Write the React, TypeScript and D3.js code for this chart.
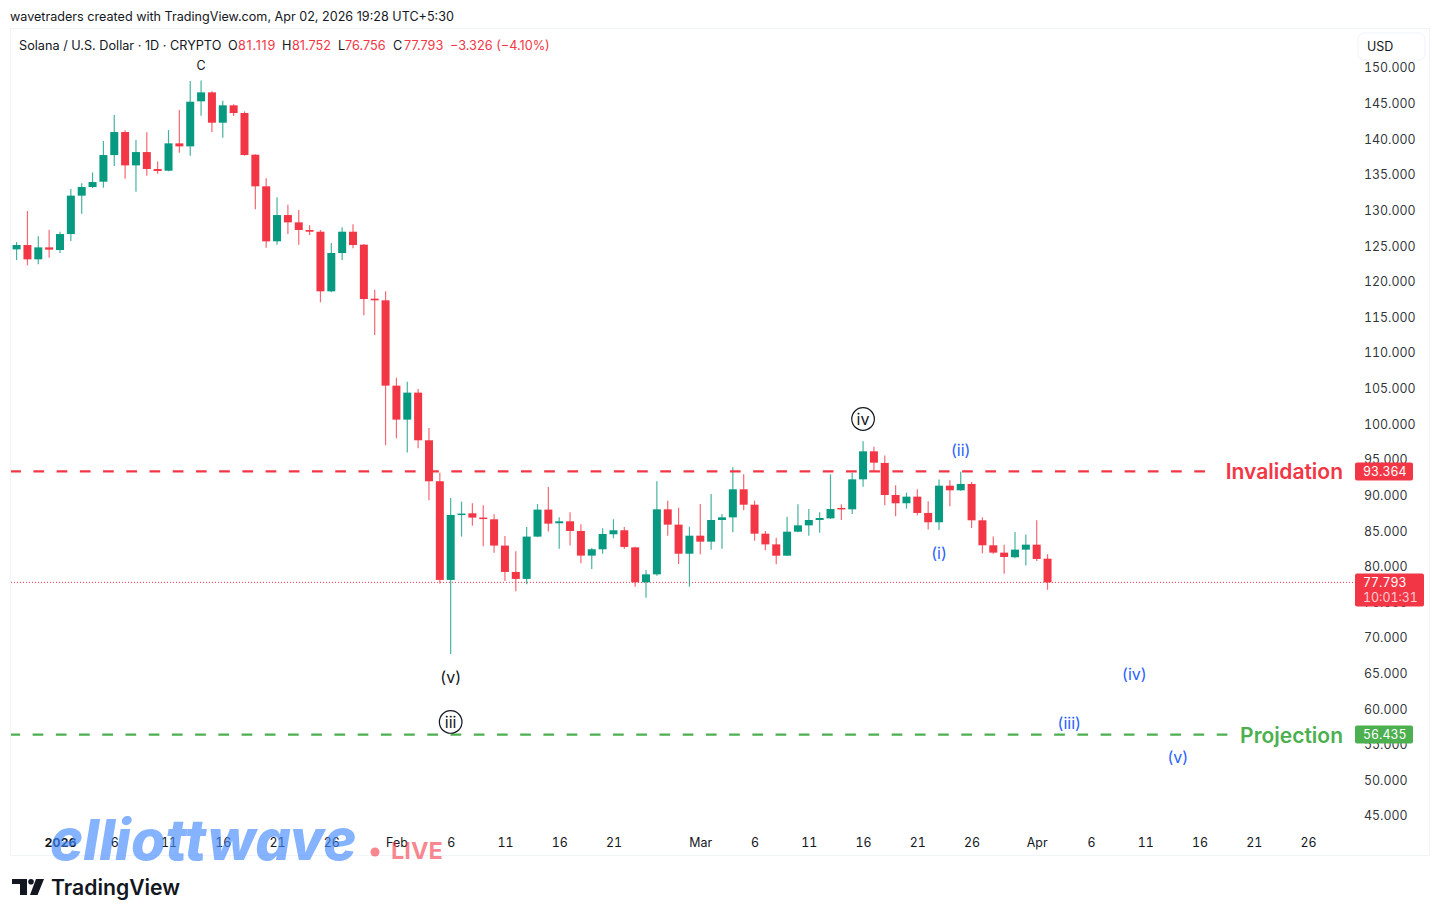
import * as React from 'react';
import * as d3 from 'd3';

// daily candles, first one is Dec 28 2025
const firstDay = new Date(Date.UTC(2025, 11, 28));

const opens = [
  124.54, 125.15, 123.14, 124.82, 124.45, 126.69, 132.08, 133.29, 134.04, 137.78, 141.01, 136.33,
  138.2, 135.82, 135.58, 139.42, 139.0, 145.32, 146.58, 142.32, 144.76, 143.68, 137.83, 133.39,
  125.67, 129.36, 128.33, 127.26, 127.02, 118.65, 124.03, 127.02, 125.2, 117.62, 117.39, 105.41,
  100.64, 104.43, 97.74, 91.99, 78.14, 87.26, 87.49, 86.89, 86.65, 82.96, 79.26, 78.28,
  84.22, 88.01, 86.09, 86.37, 85.01, 81.55, 82.44, 84.55, 85.11, 82.71, 77.8, 78.92,
  88.05, 85.9, 81.82, 84.35, 83.51, 86.55, 86.92, 90.86, 88.7, 84.63, 83.13, 81.54,
  84.91, 85.8, 86.55, 86.78, 88.24, 88.05, 92.26, 96.19, 94.56, 90.06, 88.9, 89.83,
  87.54, 86.23, 91.37, 90.72, 91.61, 86.51, 83.0, 81.97, 81.32, 82.39, 83.09, 81.119,
];
const highs = [
  125.57, 129.92, 126.37, 127.26, 127.02, 133.01, 133.81, 135.35, 139.75, 143.4, 141.25, 139.89,
  140.97, 136.89, 141.29, 144.1, 148.17, 148.26, 146.72, 145.41, 144.9, 143.91, 137.88, 134.51,
  131.84, 130.81, 130.06, 127.91, 127.26, 125.43, 127.63, 128.05, 125.29, 118.88, 118.65, 106.53,
  105.97, 104.95, 99.47, 93.2, 89.65, 89.13, 88.9, 88.62, 87.35, 84.31, 82.16, 85.58,
  88.8, 91.19, 86.93, 87.63, 85.95, 82.63, 85.39, 86.65, 85.58, 82.81, 79.53, 91.98,
  89.26, 88.28, 85.61, 88.8, 90.2, 87.39, 93.94, 92.96, 89.26, 85.01, 84.07, 87.02,
  88.75, 88.09, 87.63, 92.96, 88.75, 93.2, 97.6, 96.85, 95.59, 91.42, 90.39, 90.86,
  89.18, 92.22, 92.12, 93.34, 91.89, 86.93, 84.22, 83.09, 84.87, 84.5, 86.51, 81.752,
];
const lows = [
  123.04, 122.3, 122.44, 123.37, 124.03, 125.71, 129.55, 133.15, 133.2, 136.24, 134.46, 132.64,
  134.88, 135.16, 135.5, 138.11, 137.69, 143.3, 141.01, 140.22, 143.26, 137.7, 130.16, 124.78,
  125.2, 126.69, 125.2, 126.56, 117.11, 118.51, 123.05, 124.69, 115.28, 112.52, 97.04, 98.02,
  96.01, 96.62, 89.32, 77.62, 67.75, 84.22, 85.76, 82.86, 81.97, 78.0, 76.55, 77.53,
  84.15, 84.92, 82.53, 82.96, 80.48, 79.68, 81.83, 83.98, 82.49, 77.19, 75.65, 78.74,
  84.35, 80.37, 77.19, 81.73, 82.39, 82.53, 84.82, 87.91, 83.65, 82.29, 80.33, 81.5,
  84.82, 84.35, 84.77, 86.7, 86.56, 87.4, 91.23, 93.39, 88.61, 87.07, 88.15, 87.21,
  85.2, 85.15, 88.47, 90.65, 85.43, 81.88, 81.83, 79.02, 81.17, 80.15, 80.8, 76.756,
];
const closes = [
  125.15, 123.14, 124.82, 124.5, 126.69, 132.08, 133.29, 133.99, 137.78, 141.01, 136.33, 138.2,
  135.82, 135.54, 139.42, 139.0, 145.27, 146.58, 142.32, 144.76, 143.68, 137.78, 133.39, 125.67,
  129.36, 128.33, 127.26, 127.02, 118.65, 124.03, 127.02, 125.15, 117.57, 117.39, 105.41, 100.64,
  104.43, 97.74, 91.99, 78.14, 87.26, 87.45, 86.89, 86.7, 82.96, 79.26, 78.28, 84.22,
  88.01, 86.04, 86.37, 85.01, 81.55, 82.44, 84.59, 85.11, 82.77, 77.8, 78.92, 88.05,
  85.9, 81.82, 84.35, 83.51, 86.55, 86.92, 90.86, 88.7, 84.63, 83.13, 81.54, 84.91,
  85.8, 86.55, 86.83, 88.09, 88.1, 92.26, 96.19, 94.6, 90.06, 88.9, 89.83, 87.54,
  86.23, 91.37, 90.72, 91.61, 86.51, 83.0, 81.97, 81.36, 82.39, 83.09, 81.08, 77.793,
];

const priceTicks = d3.range(45, 151, 5);

const timeLabels = ['2026', '6', '11', '16', '21', '26', 'Feb', '6', '11', '16', '21', 'Mar', '6', '11', '16', '21', '26', 'Apr', '6', '11', '16', '21', '26'];
const timeTicks = [
  [0, 1], [0, 6], [0, 11], [0, 16], [0, 21], [0, 26],
  [1, 1], [1, 6], [1, 11], [1, 16], [1, 21],
  [2, 1], [2, 6], [2, 11], [2, 16], [2, 21], [2, 26],
  [3, 1], [3, 6], [3, 11], [3, 16], [3, 21], [3, 26],
].map(([m, d]) => new Date(Date.UTC(2026, m, d)));

const invalidation = 93.364;
const projection = 56.435;
const lastPrice = 77.793;

const black = '#131722';
const blue = '#2962ff';
const up = '#089981';
const down = '#f23645';
const greenLine = '#4caf50';
const font = 'Inter, "Noto Sans", sans-serif';
const tnum = 'tabular-nums';

const blackWaves = [
  { text: 'C', month: 0, day: 14, price: 150.28 },
  { text: '(v)', month: 1, day: 6, price: 64.51 },
];
const circledWaves = [
  { text: 'iii', month: 1, day: 6, price: 58.2 },
  { text: 'iv', month: 2, day: 16, price: 100.73 },
];
const blueWaves = [
  { text: '(ii)', month: 2, day: 25, price: 96.38 },
  { text: '(i)', month: 2, day: 23, price: 81.92 },
  { text: '(iii)', month: 3, day: 4, price: 58.06 },
  { text: '(iv)', month: 3, day: 10, price: 64.94 },
  { text: '(v)', month: 3, day: 14, price: 53.28 },
];

const day = (month: number, d: number) => new Date(Date.UTC(2026, month, d));

export default function App() {
  const svgRef = React.useRef<SVGSVGElement>(null);

  React.useEffect(() => {
    const width = 1440, height = 919;
    const svg = d3.select(svgRef.current);
    svg.selectAll('*').remove();

    const x = d3.scaleUtc().domain([day(0, 1), day(3, 26)]).range([60, 1308]);
    const y = d3.scaleLinear().domain([150, 45]).range([68, 816]);
    const candles = opens.map((o, i) => ({
      date: d3.utcDay.offset(firstDay, i),
      o, h: highs[i], l: lows[i], c: closes[i],
    }));

    svg.append('rect').attr('width', width).attr('height', height).attr('fill', '#fff');

    // pane frame
    svg.append('rect')
      .attr('x', 10.5).attr('y', 28.5).attr('width', 1419).attr('height', 827)
      .attr('fill', 'none').attr('stroke', '#f0f3fa');

    svg.append('text').text('wavetraders created with TradingView.com, Apr 02, 2026 19:28 UTC+5:30')
      .attr('x', 10).attr('y', 21).attr('font-size', 12.6).attr('fill', black).attr('font-family', font);

    // legend
    const legend: [string, number, string][] = [
      ['Solana / U.S. Dollar · 1D · CRYPTO', 19, black],
      ['O', 228, black], ['81.119', 238, down],
      ['H', 282, black], ['81.752', 292, down],
      ['L', 338, black], ['76.756', 345, down],
      ['C', 393, black], ['77.793', 404, down],
      ['−3.326 (−4.10%)', 450, down],
    ];
    svg.append('g').selectAll('text').data(legend).enter().append('text')
      .text(d => d[0])
      .attr('x', d => d[1]).attr('y', 50)
      .attr('fill', d => d[2])
      .attr('letter-spacing', d => (d[0] === '81.119' ? 0.7 : 0))
      .attr('font-size', 12.7).attr('font-family', font);

    // axes
    const yAxis = d3.axisRight(y).tickValues(priceTicks).tickSize(0).tickPadding(0)
      .tickFormat(v => d3.format('.3f')(v as number));
    const yg = svg.append('g').attr('transform', 'translate(1364,0)').call(yAxis);
    yg.select('.domain').remove();
    yg.selectAll('text').attr('font-size', 12.4).attr('font-family', font).attr('fill', black).attr('fill-opacity', 0.9)
      .style('font-variant-numeric', tnum);

    const xAxis = d3.axisBottom(x).tickValues(timeTicks).tickSize(0).tickPadding(0)
      .tickFormat((_v, i) => timeLabels[i]);
    const xg = svg.append('g').attr('transform', 'translate(0,838)').call(xAxis);
    xg.select('.domain').remove();
    xg.selectAll('text').attr('font-size', 12.4).attr('font-family', font).attr('fill', black)
      .attr('font-weight', (_d, i) => (i === 0 ? 700 : 400))
      .style('font-variant-numeric', tnum);

    // horizontal levels
    svg.append('line').attr('x1', 11).attr('x2', 1355).attr('y1', y(lastPrice)).attr('y2', y(lastPrice))
      .attr('stroke', down).attr('stroke-width', 1).attr('stroke-dasharray', '1 2');

    // candles
    const g = svg.append('g').selectAll('g').data(candles).enter().append('g')
      .attr('fill', d => (d.c >= d.o ? up : down))
      .attr('stroke', d => (d.c >= d.o ? up : down));
    g.append('line')
      .attr('x1', d => x(d.date)).attr('x2', d => x(d.date))
      .attr('y1', d => y(d.h)).attr('y2', d => y(d.l))
      .attr('stroke-width', 1.2).attr('stroke-opacity', 0.75);
    g.append('rect')
      .attr('x', d => x(d.date) - 4).attr('width', 8)
      .attr('y', d => y(Math.max(d.o, d.c)))
      .attr('height', d => Math.max(1.5, Math.abs(y(d.o) - y(d.c))))
      .attr('stroke', 'none');

    svg.append('line').attr('x1', 11).attr('x2', 1206).attr('y1', y(invalidation)).attr('y2', y(invalidation))
      .attr('stroke', down).attr('stroke-width', 2.2).attr('stroke-dasharray', '10.7 12.517').attr('stroke-dashoffset', 0.8);
    svg.append('line').attr('x1', 11).attr('x2', 1229).attr('y1', y(projection)).attr('y2', y(projection))
      .attr('stroke', greenLine).attr('stroke-width', 2.2).attr('stroke-dasharray', '10.7 12.517').attr('stroke-dashoffset', 1.6);

    svg.append('text').text('Invalidation')
      .attr('x', 1343).attr('y', y(invalidation) + 8).attr('text-anchor', 'end')
      .attr('font-size', 21).attr('font-weight', 600).attr('fill', down).attr('font-family', font);
    svg.append('text').text('Projection')
      .attr('x', 1343).attr('y', y(projection) + 8).attr('text-anchor', 'end')
      .attr('font-size', 21).attr('font-weight', 600).attr('fill', greenLine).attr('font-family', font);

    // wave labels
    const waveText = (sel: d3.Selection<SVGGElement, unknown, null, undefined>, data: typeof blueWaves, color: string, size: number) =>
      sel.selectAll('text').data(data).enter().append('text')
        .text(d => d.text)
        .attr('x', d => x(day(d.month, d.day)))
        .attr('y', d => y(d.price))
        .attr('dy', '0.35em')
        .attr('text-anchor', 'middle')
        .attr('font-size', size).attr('fill', color).attr('font-family', font);
    waveText(svg.append('g') as any, blueWaves, blue, 16);
    waveText(svg.append('g') as any, blackWaves.slice(1), black, 16);
    waveText(svg.append('g') as any, blackWaves.slice(0, 1), black, 12.5);
    const circled = svg.append('g');
    circled.selectAll('circle').data(circledWaves).enter().append('circle')
      .attr('cx', d => x(day(d.month, d.day))).attr('cy', d => y(d.price)).attr('r', 11.3)
      .attr('fill', 'none').attr('stroke', black).attr('stroke-width', 1.2);
    waveText(circled as any, circledWaves, black, 16);

    // price tags
    const tag = (price: number, color: string) => {
      svg.append('rect').attr('x', 1355).attr('y', y(price) - 9).attr('width', 58).attr('height', 18)
        .attr('rx', 2).attr('fill', color);
      svg.append('text').text(d3.format('.3f')(price))
        .attr('x', 1363).attr('y', y(price)).attr('dy', '0.35em')
        .attr('font-size', 12.4).attr('fill', '#fff').attr('font-family', font)
        .style('font-variant-numeric', tnum);
    };
    tag(invalidation, down);
    tag(projection, greenLine);

    svg.append('rect').attr('x', 1355).attr('y', y(lastPrice) - 9).attr('width', 69).attr('height', 33)
      .attr('rx', 2).attr('fill', down);
    svg.append('text').text(d3.format('.3f')(lastPrice))
      .attr('x', 1363).attr('y', y(lastPrice)).attr('dy', '0.35em')
      .attr('font-size', 12.4).attr('fill', '#fff').attr('font-family', font)
      .style('font-variant-numeric', tnum);
    svg.append('text').text('10:01:31')
      .attr('x', 1363).attr('y', y(lastPrice) + 15).attr('dy', '0.35em')
      .attr('font-size', 12.4).attr('fill', '#fff').attr('fill-opacity', 0.75).attr('font-family', font)
      .style('font-variant-numeric', tnum);

    // USD button
    svg.append('rect').attr('x', 1358).attr('y', 33).attr('width', 67).attr('height', 27).attr('rx', 6)
      .attr('fill', '#fff').attr('stroke', '#f0f3fa');
    svg.append('text').text('USD').attr('x', 1367).attr('y', 51)
      .attr('font-size', 12.5).attr('fill', black).attr('font-family', font);

    // watermark
    svg.append('text').text('elliottwave')
      .attr('x', 50).attr('y', 860)
      .attr('font-size', 56).attr('font-weight', 800).attr('font-style', 'italic')
      .attr('fill', '#448aff').attr('fill-opacity', 0.65).attr('font-family', font);
    svg.append('circle').attr('cx', 375).attr('cy', 852).attr('r', 4.5).attr('fill', '#f23645').attr('fill-opacity', 0.6);
    svg.append('text').text('LIVE').attr('x', 391).attr('y', 859)
      .attr('font-size', 23.5).attr('font-weight', 700)
      .attr('fill', '#f23645').attr('fill-opacity', 0.6).attr('font-family', font);

    // TradingView logo
    const logo = svg.append('g').attr('transform', 'translate(12,879)').attr('fill', black);
    logo.append('path').attr('d', 'M0 0H15V16H8V5H0Z');
    logo.append('circle').attr('cx', 19).attr('cy', 2.8).attr('r', 2.8);
    logo.append('path').attr('d', 'M24 0H32L25.5 16H18Z');
    svg.append('text').text('TradingView').attr('x', 51).attr('y', 895)
      .attr('font-size', 21.2).attr('font-weight', 600).attr('fill', black).attr('font-family', font);
  }, []);

  return (
    <svg
      ref={svgRef}
      width={1440}
      height={919}
      style={{ position: 'absolute', left: 0, top: 0 }}
    />
  );
}
